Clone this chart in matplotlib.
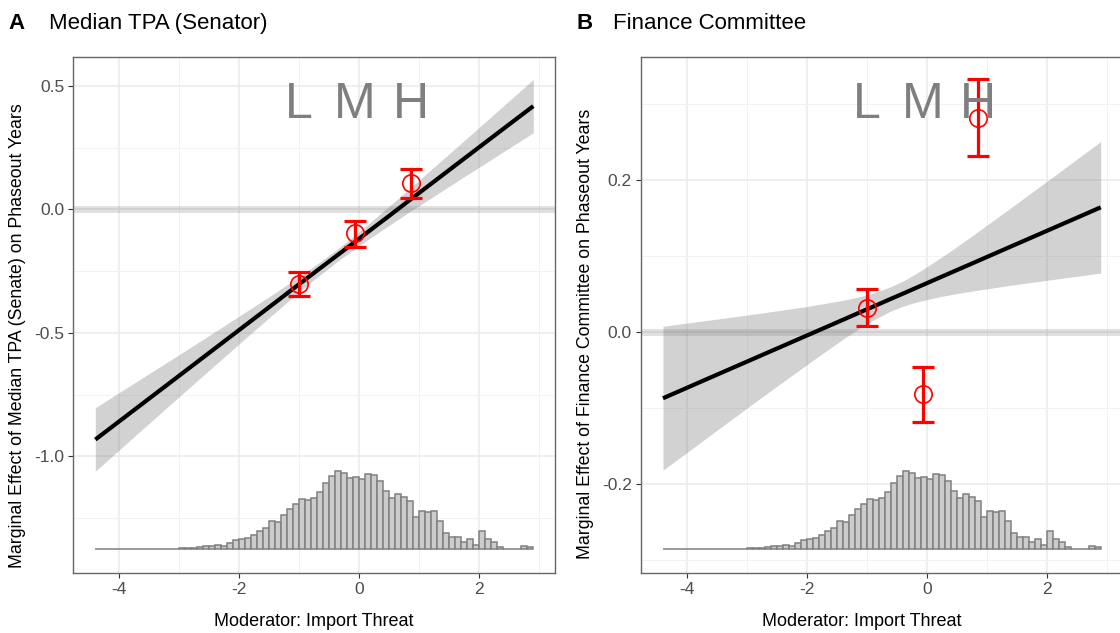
import numpy as np
import matplotlib
matplotlib.use("Agg")
import matplotlib.pyplot as plt
import matplotlib.transforms as mtransforms

plt.rcParams['font.family'] = ['Liberation Sans', 'DejaVu Sans']
plt.rcParams['axes.unicode_minus'] = False

# ---- data ----
# moderator histogram (bins of width 0.1 starting at -4.4), relative counts
hist_start = -4.4
hist_width = 0.1
hist_counts = [0, 0, 0, 0, 0, 0, 0, 0, 0, 0,
               0, 1, 1, 1, 2, 2, 2, 5, 10, 9,
               13, 10, 18, 26, 31, 33, 43, 55, 64, 85,
               80, 101, 121, 135, 149, 148, 153, 172, 199, 220,
               234, 227, 212, 217, 210, 226, 223, 204, 175, 154,
               165, 157, 143, 95, 115, 112, 115, 83, 49, 35,
               36, 21, 30, 13, 55, 30, 21, 6, 0, 0,
               0, 9, 5]

# tercile (L, M, H) estimates
bin_x = [-1.0, -0.07, 0.86]
bin_labels = ["L", "M", "H"]

# panel A: Median TPA (Senator)
a_est = [-0.304, -0.097, 0.105]
a_lo = [-0.351, -0.154, 0.045]
a_hi = [-0.255, -0.047, 0.163]
a_grid_x = [-4.4, -3.6, -2.8, -2.0, -1.4, -1.1, -0.9, -0.7, -0.4, -0.1, 0.2, 0.5, 0.8, 1.4, 2.0, 2.9]
a_line = [-0.932, -0.784, -0.636, -0.488, -0.377, -0.321, -0.284, -0.247, -0.192, -0.137,
          -0.081, -0.026, 0.030, 0.141, 0.252, 0.418]
a_upper = [-0.803, -0.680, -0.557, -0.432, -0.337, -0.288, -0.255, -0.221, -0.167, -0.110,
           -0.049, 0.013, 0.076, 0.204, 0.332, 0.526]
a_lower = [-1.060, -0.887, -0.715, -0.544, -0.417, -0.354, -0.314, -0.274, -0.217, -0.164,
           -0.113, -0.064, -0.016, 0.078, 0.171, 0.310]

# panel B: Finance Committee
b_est = [0.0324, -0.0812, 0.2824]
b_lo = [0.0087, -0.1176, 0.232]
b_hi = [0.0566, -0.0453, 0.3329]
b_grid_x = [-4.4, -3.6, -2.8, -2.0, -1.4, -1.1, -0.9, -0.6, -0.4, -0.2, 0.2, 0.5, 0.8, 1.4, 2.0, 2.9]
b_line = [-0.0868, -0.0592, -0.0317, -0.0042, 0.0164, 0.0268, 0.0336, 0.0440, 0.0508, 0.0577,
          0.0715, 0.0818, 0.0921, 0.1128, 0.1334, 0.1644]
b_upper = [0.0079, 0.0163, 0.0248, 0.0340, 0.0420, 0.0472, 0.0514, 0.0600, 0.0674, 0.0762,
           0.0964, 0.1126, 0.1294, 0.1637, 0.1984, 0.2509]
b_lower = [-0.1815, -0.1347, -0.0882, -0.0424, -0.0092, 0.0064, 0.0158, 0.0280, 0.0342, 0.0392,
           0.0466, 0.0510, 0.0548, 0.0619, 0.0684, 0.0779]

xlab = "Moderator: Import Threat"

W, H = 1120, 633
fig = plt.figure(figsize=(W / 100, H / 100), dpi=100)


def px_box(x0, x1, y0, y1):
    return [x0 / W, 1 - y1 / H, (x1 - x0) / W, (y1 - y0) / H]


def draw_panel(ax, ylim, yticks, yminor, est, lo, hi, gx, gline, gup, glow,
               hist_base, hist_peak):
    ax.set_xlim(-4.767, 3.262)
    ax.set_ylim(*ylim)
    ax.set_xticks([-4, -2, 0, 2])
    ax.set_xticklabels(["-4", "-2", "0", "2"])
    ax.set_xticks([-3, -1, 1, 3], minor=True)
    ax.set_yticks(yticks)
    ax.set_yticklabels(["%.1f" % v for v in yticks])
    ax.set_yticks(yminor, minor=True)
    ax.grid(which="major", color="#EBEBEB", lw=1.1, zorder=0)
    ax.grid(which="minor", color="#F2F2F2", lw=0.7, zorder=0)
    ax.set_axisbelow(True)
    ax.tick_params(which="major", length=3.5, width=0.8, color="#333333",
                   labelcolor="#4D4D4D", labelsize=12.5, pad=3)
    ax.tick_params(which="minor", length=0)
    for s in ax.spines.values():
        s.set_color("#666666")
        s.set_linewidth(1.0)

    # histogram of the moderator
    cnt = np.array(hist_counts, dtype=float)
    heights = cnt / cnt.max() * (hist_peak - hist_base)
    lefts = hist_start + hist_width * np.arange(len(cnt))
    ax.bar(lefts, heights, width=hist_width, bottom=hist_base, align="edge",
           facecolor="#CCCCCC", edgecolor="#808080", linewidth=1.1, zorder=2)

    # reference line at zero
    ax.axhline(0, color="black", alpha=0.12, lw=5, zorder=2)

    # linear marginal effect and CI
    ax.fill_between(gx, glow, gup, color="#7F7F7F", alpha=0.35, lw=0, zorder=3)
    ax.plot(gx, gline, color="black", lw=3, zorder=4, solid_capstyle="butt")

    # binning estimates
    e = np.array(est)
    yerr = [e - np.array(lo), np.array(hi) - e]
    ax.errorbar(bin_x, est, yerr=yerr, fmt="none", ecolor="red", elinewidth=2.3,
                capsize=8, capthick=2.3, zorder=5)
    ax.plot(bin_x, est, "o", ms=12.5, mfc="none", mec="red", mew=1.2, zorder=6)

    trans = mtransforms.blended_transform_factory(ax.transData, ax.transAxes)
    for x, lab in zip(bin_x, bin_labels):
        ax.text(x, 0.8806, lab, transform=trans, ha="center", va="baseline",
                fontsize=36, color="#7F7F7F", zorder=7)


ax1 = fig.add_axes(px_box(73.3, 555, 56.7, 572.7))
draw_panel(ax1, (-1.471, 0.618), [0.5, 0.0, -0.5, -1.0], [0.25, -0.25, -0.75, -1.25],
           a_est, a_lo, a_hi, a_grid_x, a_line, a_upper, a_lower, -1.375, -1.059)

ax2 = fig.add_axes(px_box(641, 1122.4, 56.7, 572.7))
draw_panel(ax2, (-0.3163, 0.3626), [0.2, 0.0, -0.2], [0.3, 0.1, -0.1, -0.3],
           b_est, b_lo, b_hi, b_grid_x, b_line, b_upper, b_lower, -0.285, -0.1825)

# panel titles and axis titles
fig.text(8 / W, 1 - 29.3 / H, "A", fontsize=16, fontweight="bold", va="baseline")
fig.text(49 / W, 1 - 29.3 / H, "Median TPA (Senator)", fontsize=16, va="baseline")
fig.text(576 / W, 1 - 29.3 / H, "B", fontsize=16, fontweight="bold", va="baseline")
fig.text(613 / W, 1 - 29.3 / H, "Finance Committee", fontsize=16, va="baseline")

fig.text(314 / W, 1 - 621 / H, xlab, fontsize=13, color="black", ha="center", va="center")
fig.text(862 / W, 1 - 621 / H, xlab, fontsize=13, color="black", ha="center", va="center")
fig.text(18 / W, 1 - 336 / H, "Marginal Effect of Median TPA (Senate) on Phaseout Years",
         fontsize=12.8, rotation=90, ha="center", va="center")
fig.text(585 / W, 1 - 334 / H, "Marginal Effect of Finance Committee on Phaseout Years",
         fontsize=12.8, rotation=90, ha="center", va="center")

fig.savefig("out.png", dpi=100)
